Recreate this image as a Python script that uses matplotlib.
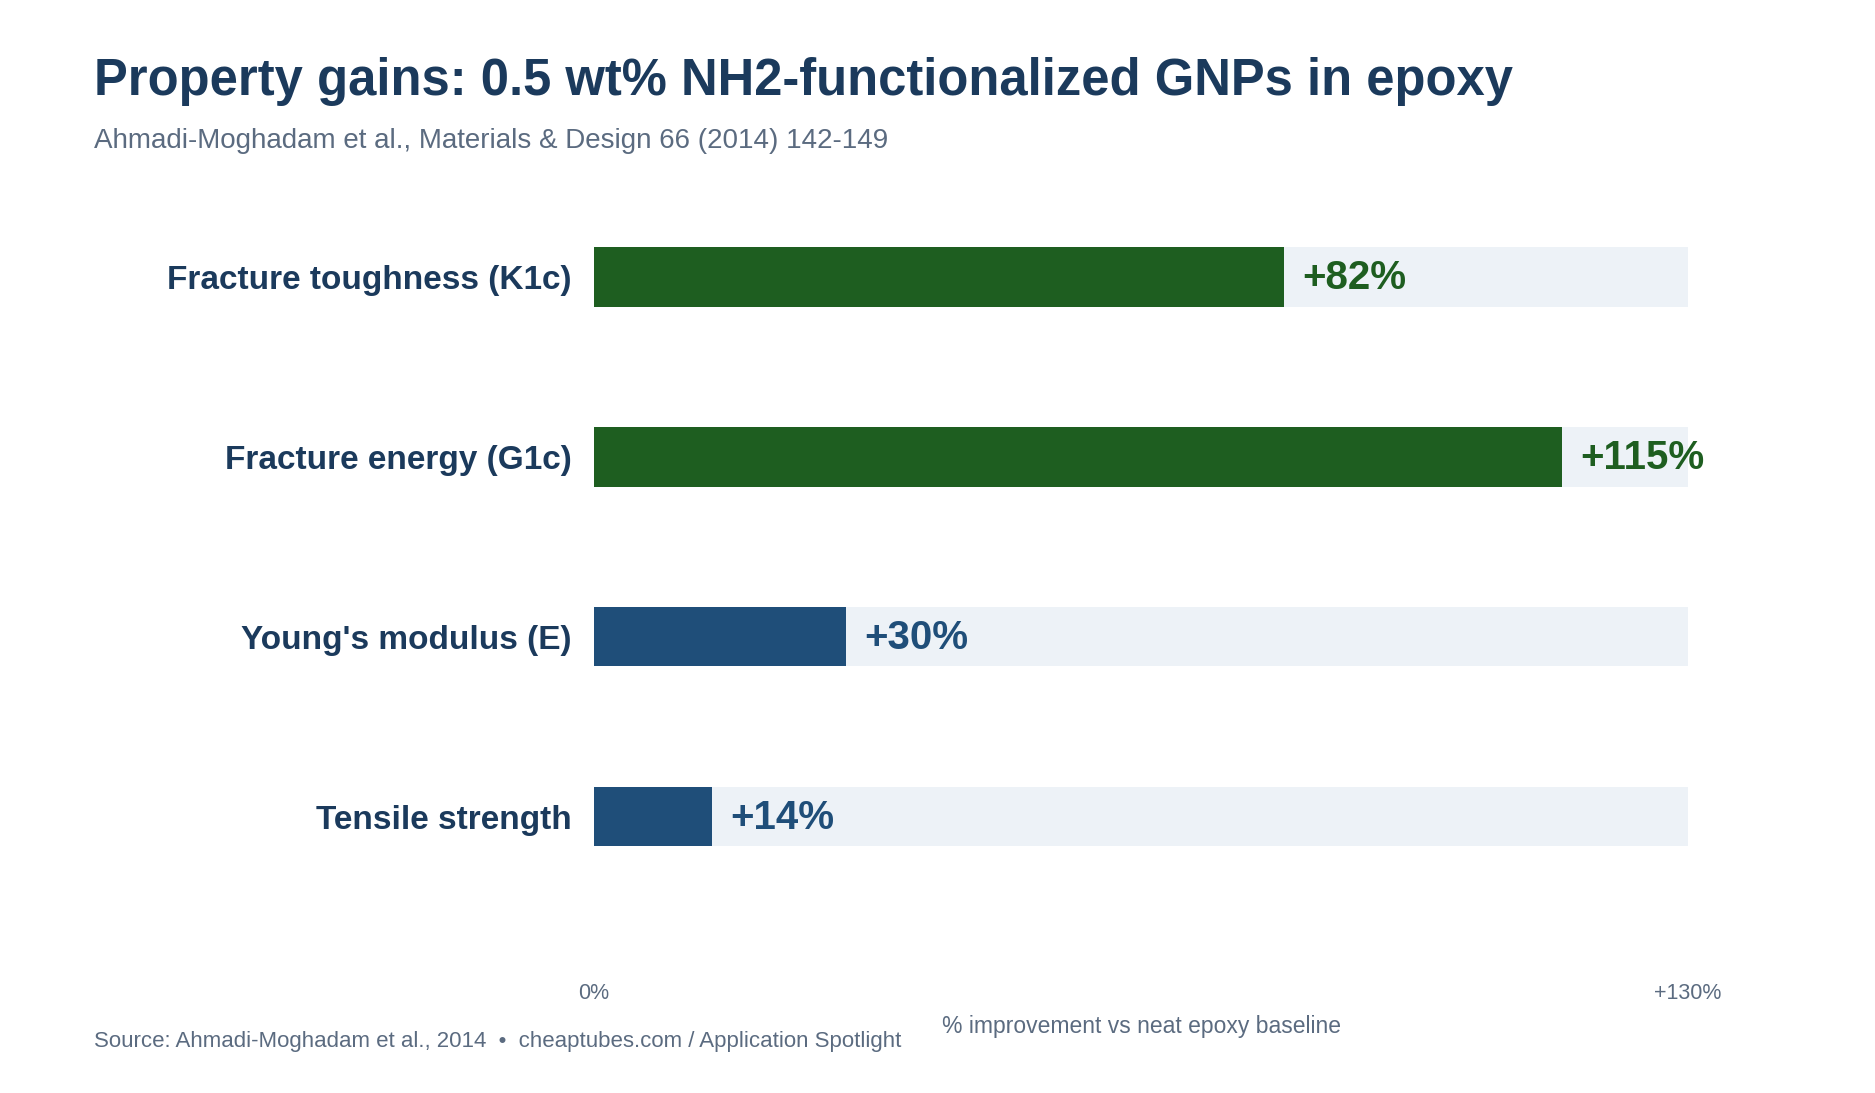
import matplotlib
matplotlib.use("Agg")
import matplotlib.pyplot as plt

plt.rcParams['font.family'] = ['Liberation Sans', 'DejaVu Sans']

categories = ["Fracture toughness (K1c)", "Fracture energy (G1c)", "Young's modulus (E)", "Tensile strength"]
values = [82, 115, 30, 14]
value_labels = ["+82%", "+115%", "+30%", "+14%"]
xmax = 130
tick_labels = ["0%", "+130%"]

GREEN = "#1e5e20"
BLUE = "#1f4e79"
colors = [GREEN, GREEN, BLUE, BLUE]
TRACK = "#edf2f7"
NAVY = "#1b3a5c"
GRAY = "#5b6b80"

W, H = 1875, 1093
fig = plt.figure(figsize=(W / 100, H / 100), dpi=100)
fig.patch.set_facecolor("white")

left_px, right_px = 594, 1688
top_px, bot_px = 187, 975
ax = fig.add_axes([left_px / W, 1 - bot_px / H, (right_px - left_px) / W, (bot_px - top_px) / H])

ys = list(range(len(categories)))
bh = 0.33
ax.barh(ys, [xmax] * len(ys), height=bh, color=TRACK, zorder=1)
ax.barh(ys, values, height=bh, color=colors, zorder=2)

for y, v, lab, c in zip(ys, values, value_labels, colors):
    ax.annotate(lab, xy=(v, y), xytext=(13, -1), textcoords="offset points",
                ha="left", va="center", fontsize=29, fontweight="bold", color=c, zorder=3)

ax.set_xlim(0, xmax)
ax.set_ylim(len(ys) - 1 + 0.88, -0.5)
ax.set_yticks(ys)
ax.set_yticklabels(categories, fontsize=24, fontweight="bold", color=NAVY)
ax.set_xticks([0, xmax])
ax.set_xticklabels(tick_labels, fontsize=15.5, color=GRAY)
ax.tick_params(axis="both", length=0)
ax.tick_params(axis="y", pad=16)
ax.tick_params(axis="x", pad=6)
for s in ax.spines.values():
    s.set_visible(False)
ax.set_xlabel("% improvement vs neat epoxy baseline", fontsize=16.5, color=GRAY, labelpad=8)

fig.text(94 / W, 1 - 82 / H, "Property gains: 0.5 wt% NH2-functionalized GNPs in epoxy",
         fontsize=36.5, fontweight="bold", color=NAVY, ha="left", va="center")
fig.text(94 / W, 1 - 141 / H, "Ahmadi-Moghadam et al., Materials & Design 66 (2014) 142-149",
         fontsize=20, color=GRAY, ha="left", va="center")
fig.text(94 / W, 1 - 1042 / H, "Source: Ahmadi-Moghadam et al., 2014  \u2022  cheaptubes.com / Application Spotlight",
         fontsize=16, color=GRAY, ha="left", va="center")

fig.savefig("out.png", dpi=100, facecolor="white")
